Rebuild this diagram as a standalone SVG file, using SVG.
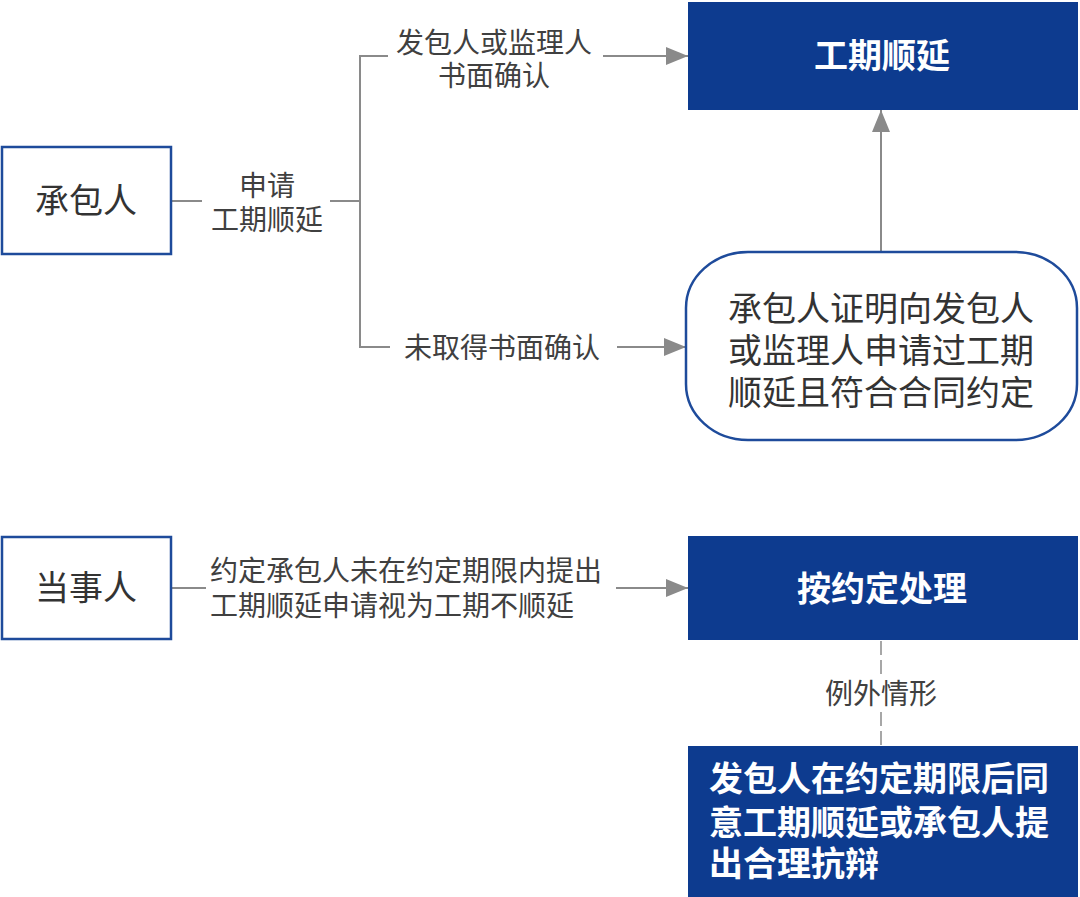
<svg xmlns="http://www.w3.org/2000/svg" width="1080" height="897" viewBox="0 0 1080 897">
<defs>
<style>
.lbl{font-family:"Noto Sans CJK SC","Noto Sans",sans-serif;font-size:28px;fill:#404040}
.nt{font-family:"Noto Sans CJK SC","Noto Sans",sans-serif;font-size:34px;fill:#333333}
.bt{font-family:"Noto Sans CJK SC","Noto Sans",sans-serif;font-size:34px;font-weight:bold;fill:#ffffff}
.ob{fill:#ffffff;stroke:#1E4B9B;stroke-width:2.5}
.fb{fill:#0D3B8F}
.ln{fill:none;stroke:#8A8A8A;stroke-width:2}
.ds{fill:none;stroke:#8A8A8A;stroke-width:1.5;stroke-dasharray:14 5}
</style>
<marker id="ah" markerUnits="userSpaceOnUse" markerWidth="22" markerHeight="18" viewBox="0 0 22 18" refX="22" refY="9" orient="auto">
<path d="M0,0 L22,9 L0,18 Z" fill="#8A8A8A"/>
</marker>
</defs>
<rect width="1080" height="897" fill="#ffffff"/>
<g id="connectors">
<path class="ln" d="M171,201 H202"/>
<path class="ln" d="M330,201 H360"/>
<path class="ln" d="M388,56 H360 V347 H390"/>
<path class="ln" d="M603,56 H688" marker-end="url(#ah)"/>
<path class="ln" d="M617,347 H686" marker-end="url(#ah)"/>
<path class="ln" d="M881,251 V110" marker-end="url(#ah)"/>
<path class="ln" d="M171,588 H206"/>
<path class="ln" d="M616,588 H688" marker-end="url(#ah)"/>
<path class="ds" d="M881,641 V678"/>
<path class="ds" d="M881,712 V746"/>
<text class="lbl" text-anchor="middle" x="267" y="196">申请</text>
<text class="lbl" text-anchor="middle" x="267" y="230">工期顺延</text>
<text class="lbl" text-anchor="middle" x="494" y="53">发包人或监理人</text>
<text class="lbl" text-anchor="middle" x="494" y="86">书面确认</text>
<text class="lbl" text-anchor="middle" x="502" y="358">未取得书面确认</text>
<text class="lbl" x="210" y="581">约定承包人未在约定期限内提出</text>
<text class="lbl" x="210" y="616">工期顺延申请视为工期不顺延</text>
<text class="lbl" text-anchor="middle" x="881" y="704">例外情形</text>
</g>
<g id="n-chengbaoren">
<rect class="ob" x="2" y="147" width="169" height="107"/>
<text class="nt" text-anchor="middle" x="86" y="213">承包人</text>
</g>
<g id="n-gongqishunyan">
<rect class="fb" x="688" y="2" width="390" height="108"/>
<text class="bt" text-anchor="middle" x="882" y="68">工期顺延</text>
</g>
<g id="n-zhengming">
<rect class="ob" x="686" y="252" width="391" height="188" rx="62" ry="56"/>
<text class="nt" text-anchor="middle" x="881" y="321">承包人证明向发包人</text>
<text class="nt" text-anchor="middle" x="881" y="363">或监理人申请过工期</text>
<text class="nt" text-anchor="middle" x="881" y="405">顺延且符合合同约定</text>
</g>
<g id="n-dangshiren">
<rect class="ob" x="2" y="537" width="169" height="102"/>
<text class="nt" text-anchor="middle" x="86" y="600">当事人</text>
</g>
<g id="n-anyueding">
<rect class="fb" x="688" y="536" width="390" height="104"/>
<text class="bt" text-anchor="middle" x="882" y="601">按约定处理</text>
</g>
<g id="n-liwai">
<rect class="fb" x="688" y="746" width="390" height="151"/>
<text class="bt" x="709" y="791">发包人在约定期限后同</text>
<text class="bt" x="709" y="835">意工期顺延或承包人提</text>
<text class="bt" x="709" y="876">出合理抗辩</text>
</g>
</svg>
